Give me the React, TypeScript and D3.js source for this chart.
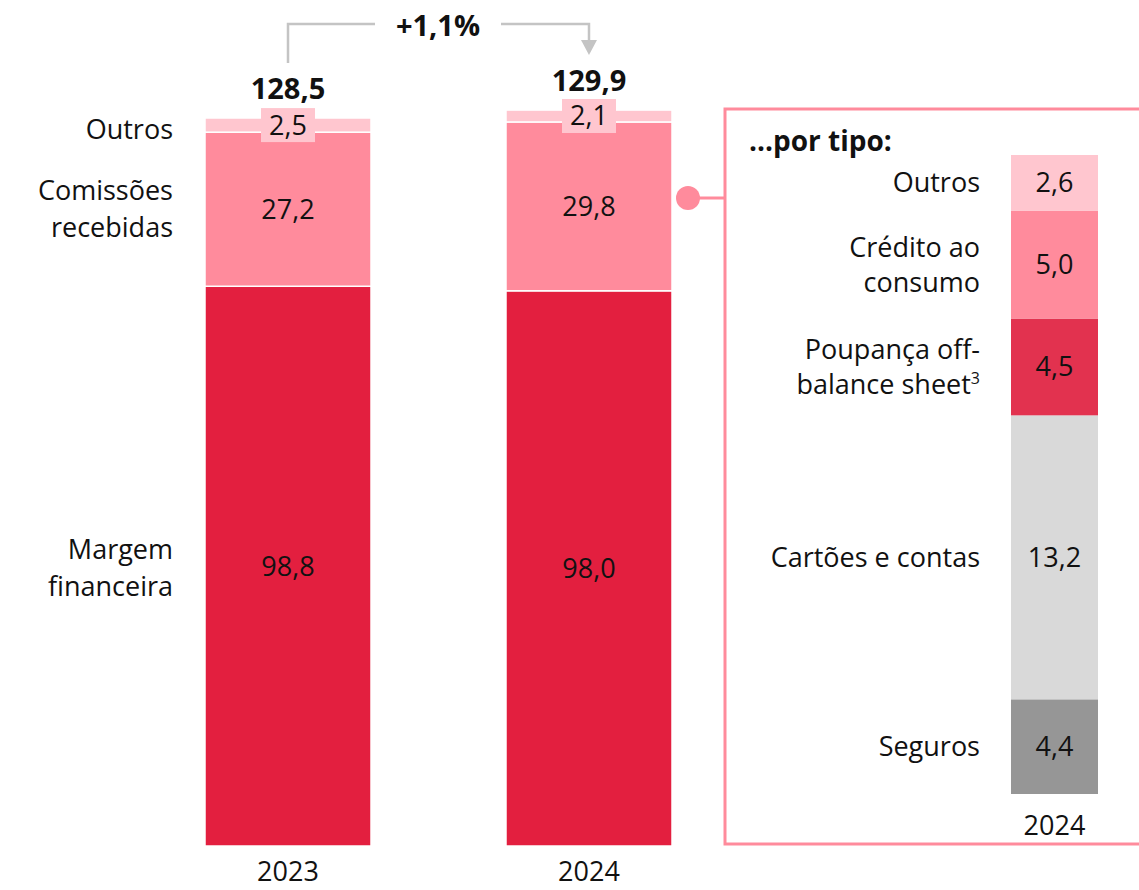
import React from "react";
import * as d3 from "d3";

const years = ["2023", "2024"];
const margem = [98.8, 98.0];
const comissoes = [27.2, 29.8];
const outros = [2.5, 2.1];
const totals = [128.5, 129.9];
const growthLabel = "+1,1%";

const typeNames = ["Seguros", "Cartões e contas", "Poupança off-balance sheet", "Crédito ao consumo", "Outros"];
const typeValues = [4.4, 13.2, 4.5, 5.0, 2.6];

const fmt = (v: number) => v.toFixed(1).replace(".", ",");
const FONT = "'Open Sans', 'Liberation Sans', Arial, sans-serif";

export default function App() {
  const W = 1139, H = 890;
  const baseY = 846;
  const x = d3.scaleBand().domain(years).range([205, 672]).paddingInner(0.4485).paddingOuter(0);
  const y = d3.scaleLinear().domain([0, 128.5]).range([baseY, 118]);

  const seriesKeys = ["margem", "comissoes", "outros"];
  const rows = years.map((yr, i) => ({ year: yr, margem: margem[i], comissoes: comissoes[i], outros: outros[i] }));
  const stack = d3.stack<any>().keys(seriesKeys)(rows);
  const colors: Record<string, string> = { margem: "#E31F3F", comissoes: "#FF8B9C", outros: "#FFC6CF" };

  const bx = 1011, bw = 87;
  const yb = d3.scaleLinear().domain([0, d3.sum(typeValues)]).range([794, 155]);
  let acc = 0;
  const typeSegs = typeValues.map((v, i) => { const s = { v, i, y0: acc, y1: acc + v }; acc += v; return s; });
  const typeColors = ["#969696", "#D9D9D9", "#E2324F", "#FF8B9C", "#FFC6CF"];
  const typeLabelLines: string[][] = [["Seguros"], ["Cartões e contas"], ["Poupança off-", "balance sheet"], ["Crédito ao ", "consumo"], ["Outros"]];

  const bw0 = x.bandwidth();
  const cx = (yr: string) => (x(yr) as number) + bw0 / 2;
  const FS = 27;
  const FB = 29;

  return (
    <svg width={W} height={H} style={{ position: "absolute", left: 0, top: 0 }} fontFamily={FONT}>
      <rect width={W} height={H} fill="#fff" />
      {stack.map((layer) =>
        layer.map((d, i) => (
          <rect key={layer.key + i} x={x(years[i])} width={bw0} y={y(d[1])} height={y(d[0]) - y(d[1])}
            fill={colors[layer.key]} stroke="#fff" strokeWidth={1.5} />
        ))
      )}
      {years.map((yr, i) => {
        const sm = stack[0][i], sc = stack[1][i], so = stack[2][i];
        return (
          <g key={yr} fontSize={FS} textAnchor="middle" fill="#111">
            <text x={cx(yr)} y={(y(sm[0]) + y(sm[1])) / 2} dy="0.35em">{fmt(margem[i])}</text>
            <text x={cx(yr)} y={(y(sc[0]) + y(sc[1])) / 2} dy="0.35em">{fmt(comissoes[i])}</text>
            <rect x={cx(yr) - 27} y={(y(so[0]) + y(so[1])) / 2 - 17} width={54} height={34} fill="#FFC6CF" />
            <text x={cx(yr)} y={(y(so[0]) + y(so[1])) / 2} dy="0.35em">{fmt(outros[i])}</text>
            <text x={cx(yr)} y={y(totals[i]) - 29} dy="0.35em" fontWeight="bold" fontSize={FB}>{fmt(totals[i])}</text>
            <text x={cx(yr)} y={881}>{yr}</text>
          </g>
        );
      })}
      <g fontSize={FS} textAnchor="end" fill="#111">
        <text x={173} y={130} dy="0.35em">Outros</text>
        <text x={173} y={191} dy="0.35em">Comissões</text>
        <text x={173} y={228} dy="0.35em">recebidas</text>
        <text x={173} y={550} dy="0.35em">Margem</text>
        <text x={173} y={587} dy="0.35em">financeira</text>
      </g>
      <g stroke="#C4C4C4" strokeWidth={2.5} fill="none">
        <path d={`M${cx("2023")},63 V24 H375`} />
        <path d={`M501,24 H${cx("2024")} V42`} />
      </g>
      <path d={`M${cx("2024") - 8},40 L${cx("2024") + 8},40 L${cx("2024")},55 Z`} fill="#C4C4C4" />
      <text x={438} y={26} dy="0.35em" textAnchor="middle" fontSize={FB} fontWeight="bold" fill="#111">{growthLabel}</text>
      <line x1={688} y1={198} x2={725} y2={198} stroke="#FF8B9C" strokeWidth={3} />
      <circle cx={688} cy={198} r={12} fill="#FF8B9C" />
      <rect x={725} y={109} width={430} height={735} fill="none" stroke="#FF8B9C" strokeWidth={3} />
      <text x={749} y={141} dy="0.35em" fontSize={FB - 1} fontWeight="bold" fill="#111">...por tipo:</text>
      {typeSegs.map((s) => (
        <g key={s.i}>
          <rect x={bx} width={bw} y={yb(s.y1)} height={yb(s.y0) - yb(s.y1)} fill={typeColors[s.i]} />
          <text x={bx + bw / 2} y={(yb(s.y0) + yb(s.y1)) / 2} dy="0.35em" textAnchor="middle" fontSize={FS} fill="#111">{fmt(s.v)}</text>
          {typeLabelLines[s.i].map((ln, j, arr) => (
            <text key={j} x={980} y={(yb(s.y0) + yb(s.y1)) / 2 + (j - (arr.length - 1) / 2) * 35} dy="0.35em"
              textAnchor="end" fontSize={FS} fill="#111">
              {ln}{s.i === 2 && j === 1 ? <tspan fontSize={16} dy="-0.6em">3</tspan> : null}
            </text>
          ))}
        </g>
      ))}
      <text x={bx + bw / 2} y={826} dy="0.35em" textAnchor="middle" fontSize={FS} fill="#111">2024</text>
    </svg>
  );
}
